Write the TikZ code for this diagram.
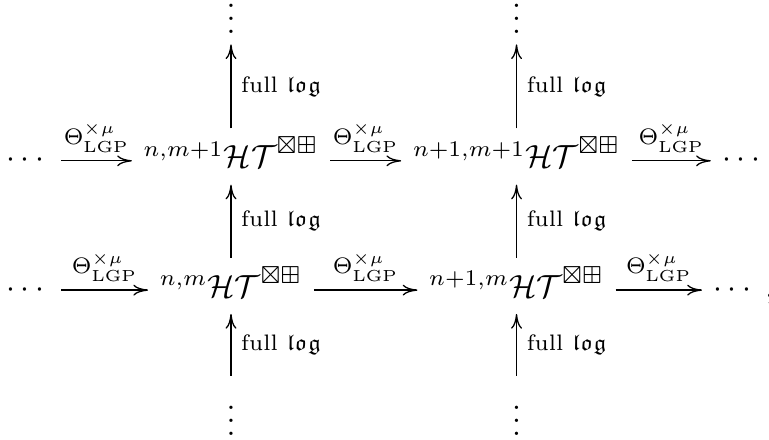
\documentclass[tikz,border=0pt]{standalone}
\usepackage{amsmath,amssymb}
\usetikzlibrary{arrows.meta}
\newcommand{\HTc}[1]{${}^{#1}\mathcal{HT}^{\boxtimes\boxplus}$}
\newcommand{\Thlgp}{$\Theta^{\times\mu}_{\mathrm{LGP}}$}
\newcommand{\flog}{full $\mathfrak{log}$}
\tikzset{
  obj/.style ={anchor=base, inner xsep=3.5pt, inner ysep=3.7pt,
               text height=8.4pt, text depth=1.4pt},
  vd/.style  ={anchor=base, inner sep=3.33pt},
  mor/.style ={-{Computer Modern Rightarrow[length=4.6pt,width=3.4pt]},
               line width=0.4pt},
  lab/.style ={above, inner sep=2.5pt, font=\scriptsize},
  vlab/.style={right, inner sep=3pt, font=\scriptsize}
}
\begin{document}
\begin{tikzpicture}
\useasboundingbox (0,0) rectangle (8.446,4.822);
% upper row
\node[obj] (dl1)  at (0.308,2.98) {$\cdots$};
\node[obj] (ht01) at (2.537,2.98) {\HTc{n,m+1}};
\node[obj] (ht11) at (5.673,2.98) {\HTc{n+1,m+1}};
\node[obj] (dr1)  at (8.171,2.98) {$\cdots$};
% lower row
\node[obj] (dl0)  at (0.308,1.56) {$\cdots$};
\node[obj] (ht00) at (2.537,1.56) {\HTc{n,m}};
\node[obj] (ht10) at (5.673,1.56) {\HTc{n+1,m}};
\node[obj] (dr0)  at (8.171,1.56) {$\cdots\;,$};
\node[vd] (vt0) at (2.537,4.459) {$\vdots$};
\node[vd] (vt1) at (5.673,4.459) {$\vdots$};
\node[vd] (vb0) at (2.537,0.044) {$\vdots$};
\node[vd] (vb1) at (5.673,0.044) {$\vdots$};

\draw[mor] (dl1.mid east)  -- node[lab]{\Thlgp} (ht01.mid west);
\draw[mor] (ht01.mid east) -- node[lab]{\Thlgp} (ht11.mid west);
\draw[mor] (ht11.mid east) -- node[lab]{\Thlgp} (dr1.mid west);
\draw[mor] (dl0.mid east)  -- node[lab]{\Thlgp} (ht00.mid west);
\draw[mor] (ht00.mid east) -- node[lab]{\Thlgp} (ht10.mid west);
\draw[mor] (ht10.mid east) -- node[lab]{\Thlgp} (dr0.mid west);

\draw[mor] (vb0) -- node[vlab]{\flog} (ht00);
\draw[mor] (ht00) -- node[vlab]{\flog} (ht01);
\draw[mor] (ht01) -- node[vlab]{\flog} (vt0);
\draw[mor] (vb1) -- node[vlab]{\flog} (ht10);
\draw[mor] (ht10) -- node[vlab]{\flog} (ht11);
\draw[mor] (ht11) -- node[vlab]{\flog} (vt1);
\end{tikzpicture}
\end{document}
